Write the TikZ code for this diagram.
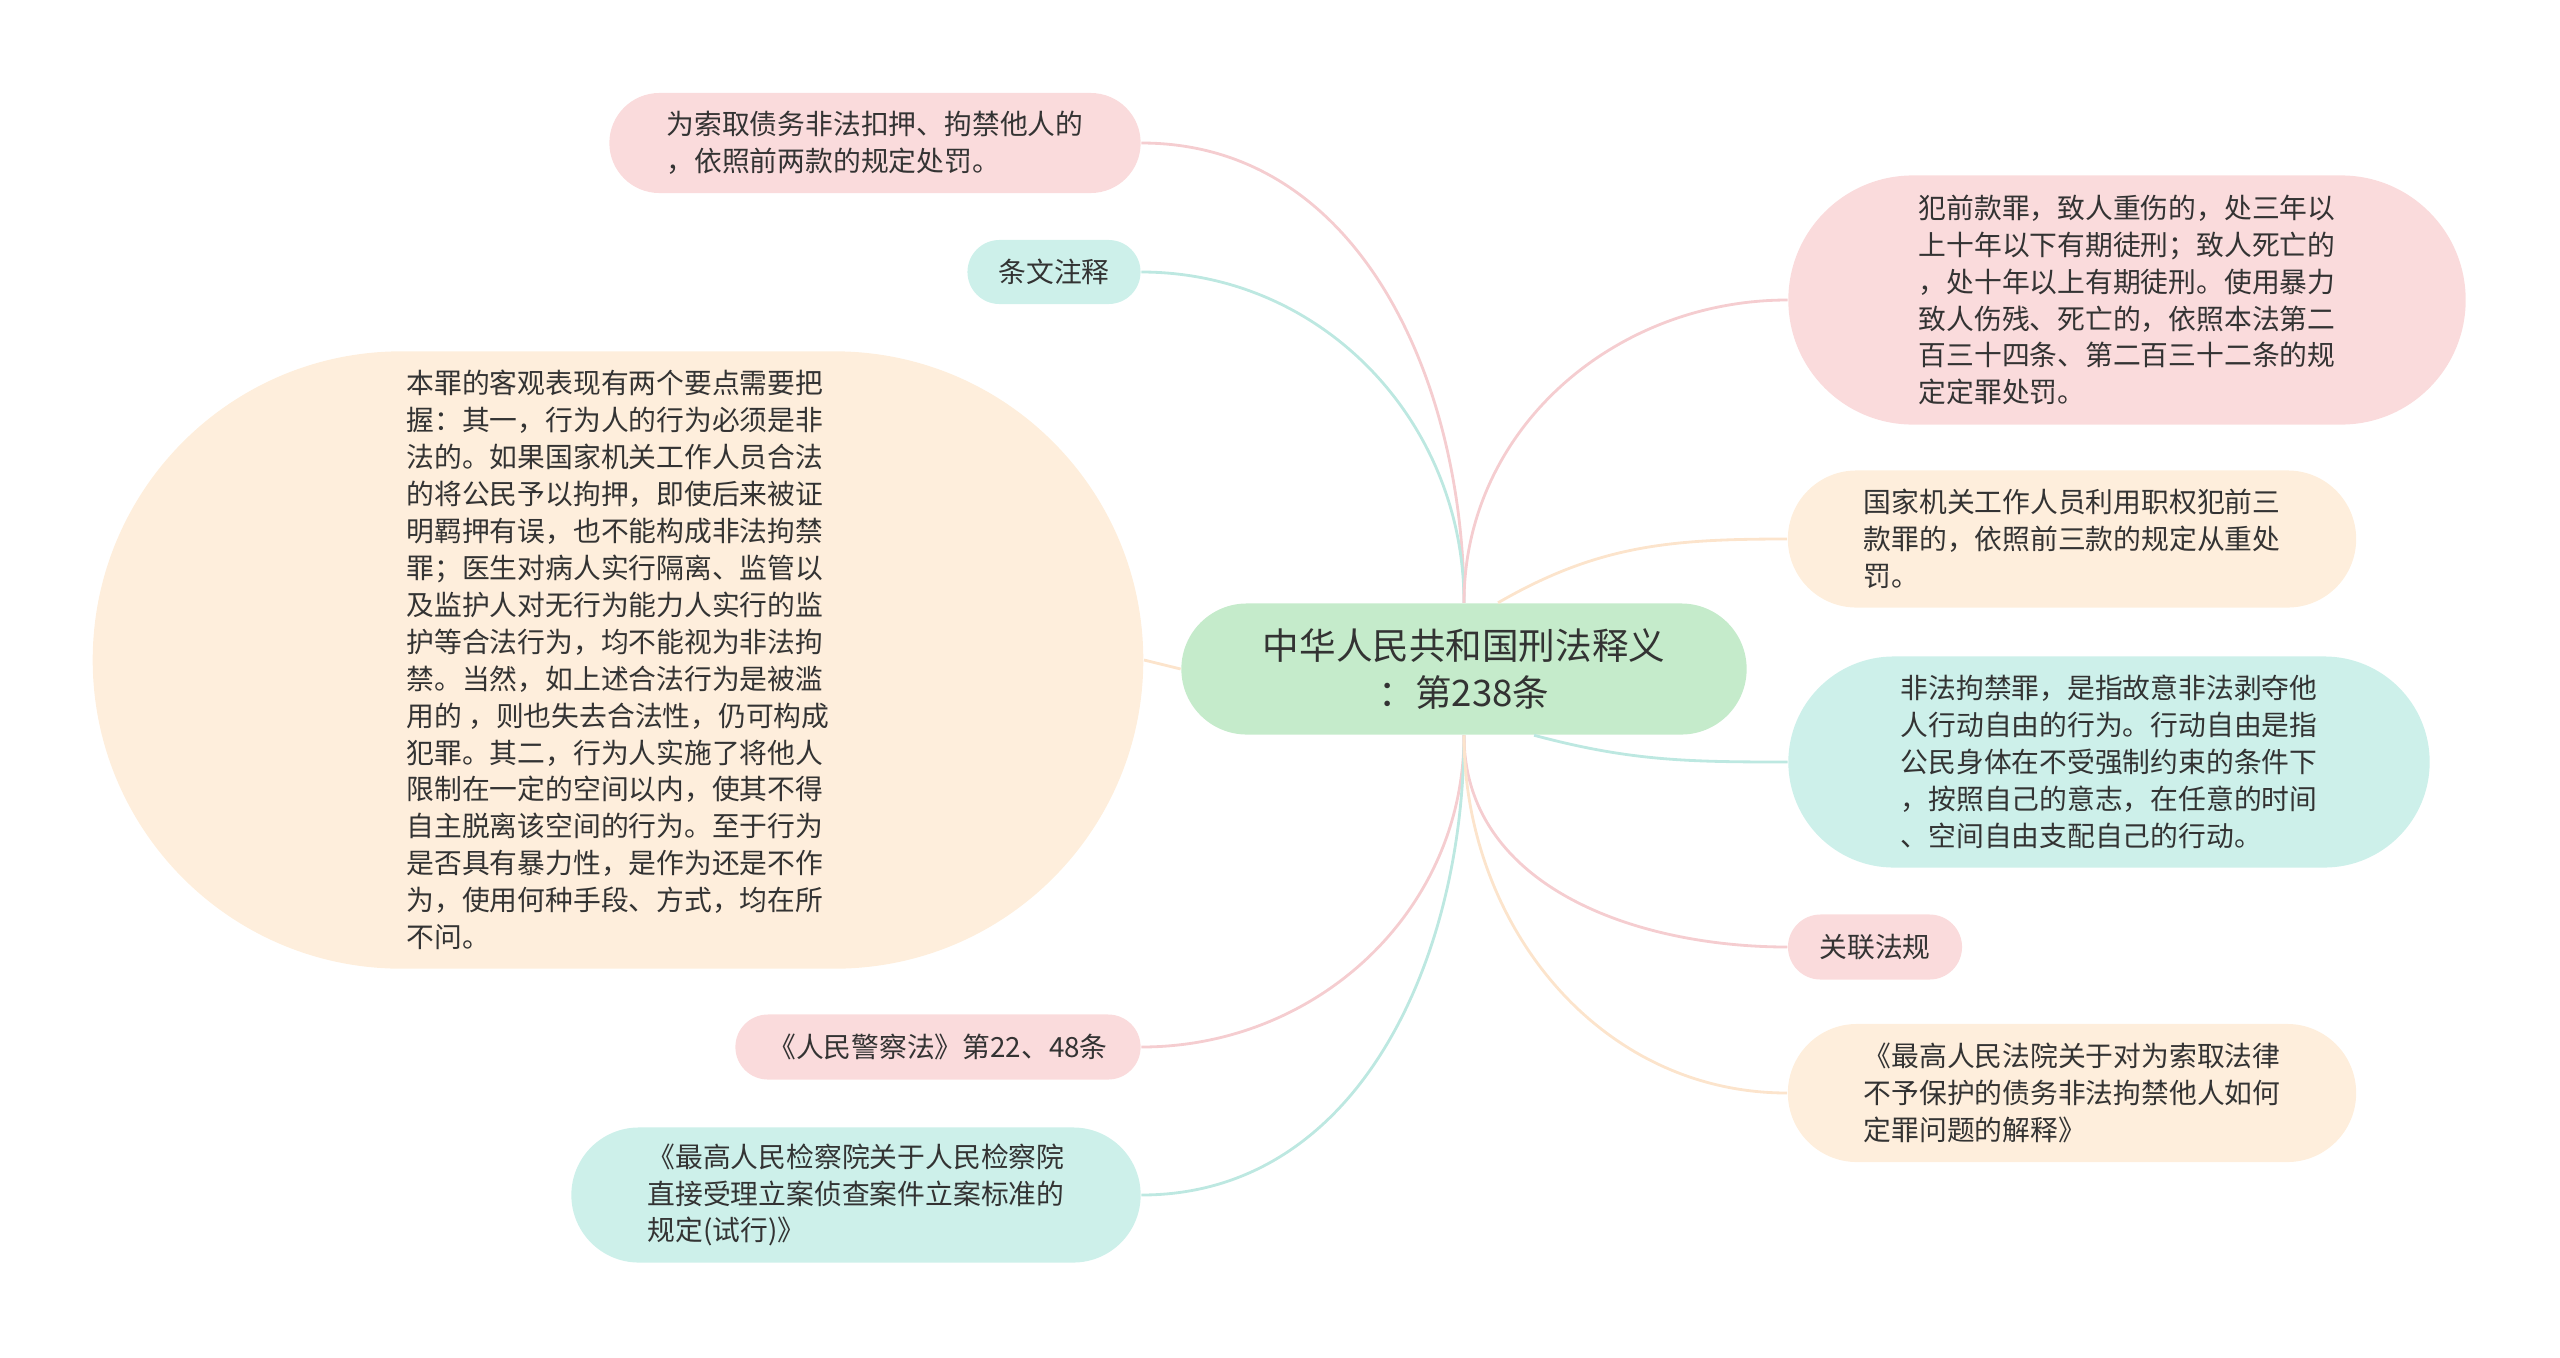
\documentclass[tikz,border=0pt]{standalone}
\usepackage{fontspec}
\usetikzlibrary{shapes.misc}
\newfontfamily\cjk{Noto Sans CJK SC}
\definecolor{cpink}{HTML}{FADBDC}
\definecolor{ccyan}{HTML}{CDF0EA}
\definecolor{cpeach}{HTML}{FEEEDC}
\definecolor{cgreen}{HTML}{C5EBCB}
\definecolor{cpinkln}{HTML}{F5CDD0}
\definecolor{ccyanln}{HTML}{BDE8E1}
\definecolor{cpeachln}{HTML}{FCE4CC}
\definecolor{ctxt}{HTML}{333333}
\tikzset{
  leaf/.style={rounded rectangle, inner sep=0pt, align=left, text=ctxt,
    font=\cjk\fontsize{7.9}{10.5}\selectfont},
  pinkbox/.style={leaf, fill=cpink},
  cyanbox/.style={leaf, fill=ccyan},
  peachbox/.style={leaf, fill=cpeach},
  rootbox/.style={rounded rectangle, inner sep=0pt, align=center, text=ctxt,
    fill=cgreen, font=\cjk\fontsize{10.4}{13.4}\selectfont},
  pinkedge/.style={draw=cpinkln, line width=0.8pt},
  cyanedge/.style={draw=ccyanln, line width=0.8pt},
  peachedge/.style={draw=cpeachln, line width=0.8pt},
}
\begin{document}
\begin{tikzpicture}[x=0.01cm, y=-0.01cm]
\useasboundingbox (0,0) rectangle (2560,1357);
\node[rootbox, minimum width=5.65cm, minimum height=1.31cm] (root) at (1464,669)
  {中华人民共和国刑法释义\\：第238条};
% left side
\node[pinkbox, minimum width=5.31cm, minimum height=1cm] (debt) at (875,143)
  {为索取债务非法扣押、拘禁他人的\\，依照前两款的规定处罚。};
\node[cyanbox, minimum width=1.73cm, minimum height=0.64cm] (note) at (1054,272) {条文注释};
\node[peachbox, minimum width=10.5cm, minimum height=6.17cm] (expl) at (618,660)
  {本罪的客观表现有两个要点需要把\\握：其一，行为人的行为必须是非\\法的。如果国家机关工作人员合法\\的将公民予以拘押，即使后来被证\\明羁押有误，也不能构成非法拘禁\\罪；医生对病人实行隔离、监管以\\及监护人对无行为能力人实行的监\\护等合法行为，均不能视为非法拘\\禁。当然，如上述合法行为是被滥\\用的 ，则也失去合法性，仍可构成\\犯罪。其二，行为人实施了将他人\\限制在一定的空间以内，使其不得\\自主脱离该空间的行为。至于行为\\是否具有暴力性，是作为还是不作\\为，使用何种手段、方式，均在所\\不问。};
\node[pinkbox, minimum width=4.05cm, minimum height=0.65cm] (police) at (938,1047)
  {《人民警察法》第22、48条};
\node[cyanbox, minimum width=5.69cm, minimum height=1.35cm] (procu) at (856,1195)
  {《最高人民检察院关于人民检察院\\直接受理立案侦查案件立案标准的\\规定(试行)》};
% right side
\node[pinkbox, minimum width=6.77cm, minimum height=2.49cm] (injury) at (2127,300)
  {犯前款罪，致人重伤的，处三年以\\上十年以下有期徒刑；致人死亡的\\，处十年以上有期徒刑。使用暴力\\致人伤残、死亡的，依照本法第二\\百三十四条、第二百三十二条的规\\定定罪处罚。};
\node[peachbox, minimum width=5.68cm, minimum height=1.37cm] (office) at (2072,539)
  {国家机关工作人员利用职权犯前三\\款罪的，依照前三款的规定从重处\\罚。};
\node[cyanbox, minimum width=6.41cm, minimum height=2.11cm] (defn) at (2109,762)
  {非法拘禁罪，是指故意非法剥夺他\\人行动自由的行为。行动自由是指\\公民身体在不受强制约束的条件下\\，按照自己的意志，在任意的时间\\、空间自由支配自己的行动。};
\node[pinkbox, minimum width=1.74cm, minimum height=0.65cm] (rel) at (1875,947) {关联法规};
\node[peachbox, minimum width=5.68cm, minimum height=1.38cm] (court) at (2072,1093)
  {《最高人民法院关于对为索取法律\\不予保护的债务非法拘禁他人如何\\定罪问题的解释》};
% connectors
\draw[pinkedge] (debt.east) to[out=0, in=90] (root.north);
\draw[cyanedge] (note.east) to[out=0, in=90] (root.north);
\draw[peachedge] (expl.east) -- (root.west);
\draw[pinkedge] (police.east) to[out=0, in=-90] (root.south);
\draw[cyanedge] (procu.east) to[out=0, in=-90] (root.south);
\draw[pinkedge] (root.north) to[out=90, in=180] (injury.west);
\draw[peachedge] ([xshift=0.34cm]root.north) to[out=30, in=180] (office.west);
\draw[cyanedge] ([xshift=0.7cm]root.south) to[out=-15, in=180] (defn.west);
\draw[pinkedge] (root.south) to[out=-90, in=180] (rel.west);
\draw[peachedge] (root.south) to[out=-90, in=180] (court.west);
\end{tikzpicture}
\end{document}
